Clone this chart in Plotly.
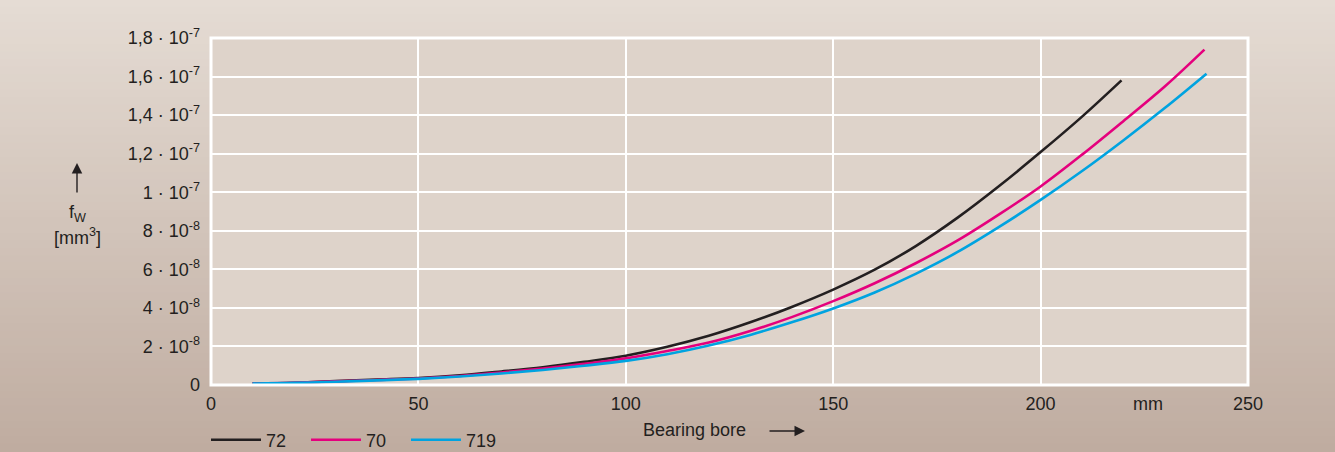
import plotly.graph_objects as go

# ---- data, values in units of 1e-8 mm^3 ----
bore_72 = [10, 20, 30, 40, 50, 60, 70, 80, 90, 100, 110, 120, 130, 140, 150,
           160, 170, 180, 190, 200, 210, 219.5]
fw_72 = [0.08, 0.12, 0.20, 0.28, 0.36, 0.50, 0.70, 0.92, 1.20, 1.52, 1.98, 2.55,
         3.25, 4.05, 4.95, 5.98, 7.22, 8.68, 10.32, 12.08, 13.92, 15.80]

bore_70 = [10, 20, 30, 40, 50, 60, 70, 80, 90, 100, 110, 120, 130, 140, 150,
           160, 170, 180, 190, 200, 210, 220, 230, 239.5]
fw_70 = [0.08, 0.12, 0.19, 0.26, 0.34, 0.47, 0.65, 0.86, 1.10, 1.38, 1.76, 2.20,
         2.80, 3.52, 4.35, 5.28, 6.33, 7.50, 8.85, 10.30, 11.95, 13.70, 15.50, 17.40]

bore_719 = [10, 20, 30, 40, 50, 60, 70, 80, 90, 100, 110, 120, 130, 140, 150,
            160, 170, 180, 190, 200, 210, 220, 230, 240]
fw_719 = [0.08, 0.11, 0.17, 0.24, 0.32, 0.44, 0.60, 0.78, 1.00, 1.25, 1.60, 2.05,
          2.60, 3.25, 3.97, 4.80, 5.78, 6.90, 8.20, 9.60, 11.10, 12.70, 14.38, 16.15]

series_names = ["72", "70", "719"]
series_colors = ["#231f20", "#e5007d", "#00a3e0"]

x_ticks = [0, 50, 100, 150, 200, 250]
y_tickvals = [0, 2e-8, 4e-8, 6e-8, 8e-8, 1e-7, 1.2e-7, 1.4e-7, 1.6e-7, 1.8e-7]
y_ticktext = ["0", "2 · 10<sup>-8</sup>", "4 · 10<sup>-8</sup>", "6 · 10<sup>-8</sup>",
              "8 · 10<sup>-8</sup>", "1 · 10<sup>-7</sup>", "1,2 · 10<sup>-7</sup>",
              "1,4 · 10<sup>-7</sup>", "1,6 · 10<sup>-7</sup>", "1,8 · 10<sup>-7</sup>"]

W, H = 1335, 452
ML, MR, MT, MB = 211, 87, 38, 67
PW, PH = W - ML - MR, H - MT - MB

FONT = "Liberation Sans, Arial, Helvetica, sans-serif"
FS = 18
TXT = "#231f20"

fig = go.Figure()
for xs, ys, name, col in [(bore_72, fw_72, series_names[0], series_colors[0]),
                          (bore_70, fw_70, series_names[1], series_colors[1]),
                          (bore_719, fw_719, series_names[2], series_colors[2])]:
    fig.add_trace(go.Scatter(x=xs, y=[v * 1e-8 for v in ys], mode="lines", name=name,
                             line=dict(color=col, width=2.6, shape="spline", smoothing=1.0)))

# ---- vertical gradient background via stacked strips ----
def px_to_py(ypx):
    return (H - MB - ypx) / PH

def px_to_px(xpx):
    return (xpx - ML) / PW

top = (229, 220, 212)
bot = (191, 172, 160)
n = 60
shapes = []
for i in range(n):
    t = (i + 0.5) / n
    c = tuple(round(top[k] + (bot[k] - top[k]) * t) for k in range(3))
    y0 = H * i / n
    y1 = H * (i + 1) / n + 1
    shapes.append(dict(type="rect", xref="paper", yref="paper", layer="below",
                       x0=px_to_px(-2), x1=px_to_px(W + 2), y0=px_to_py(y1), y1=px_to_py(y0 - 1),
                       line=dict(width=0), fillcolor="rgb(%d,%d,%d)" % c))
# plot area with white frame
shapes.append(dict(type="rect", xref="paper", yref="paper", layer="below",
                   x0=0, x1=1, y0=0, y1=1, line=dict(width=0), fillcolor="#ded3ca"))
shapes.append(dict(type="rect", xref="paper", yref="paper", layer="above",
                   x0=0, x1=1, y0=0, y1=1, line=dict(width=3, color="white"),
                   fillcolor="rgba(0,0,0,0)"))

def txt(text, xpx, ypx):
    return dict(text=text, x=px_to_px(xpx), xref="paper", y=px_to_py(ypx), yref="paper",
                xanchor="center", yanchor="middle", showarrow=False,
                font=dict(family=FONT, size=FS, color=TXT))

annotations = [
    txt("mm", 1148, 404),
    txt("Bearing bore", 694, 430),
    dict(text="", x=px_to_px(805), xref="paper", y=px_to_py(431), yref="paper",
         showarrow=True, ax=-37, ay=0, arrowhead=2, arrowsize=1.5, arrowwidth=1.4,
         arrowcolor=TXT),
    dict(text="", x=px_to_px(77), xref="paper", y=px_to_py(163), yref="paper",
         showarrow=True, ax=0, ay=31, arrowhead=2, arrowsize=1.5, arrowwidth=1.4,
         arrowcolor=TXT),
    txt("f<sub>W</sub>", 77, 213),
    txt("[mm<sup>3</sup>]", 77, 236),
]

fig.update_layout(
    width=W, height=H, autosize=False,
    margin=dict(l=ML, r=MR, t=MT, b=MB, pad=0, autoexpand=False),
    paper_bgcolor="#d0c0b4", plot_bgcolor="rgba(0,0,0,0)",
    font=dict(family=FONT, size=FS, color=TXT),
    shapes=shapes, annotations=annotations,
    showlegend=True,
    legend=dict(orientation="h", x=px_to_px(206), xanchor="left", y=px_to_py(440),
                yanchor="middle", bgcolor="rgba(0,0,0,0)", font=dict(size=FS, color=TXT),
                itemwidth=50, entrywidth=35, entrywidthmode="pixels",
                tracegroupgap=0, traceorder="normal"),
    xaxis=dict(range=[0, 250], tickvals=x_ticks, showgrid=True, gridcolor="white",
               gridwidth=2, zeroline=False, showline=False, ticks="",
               ticklabelstandoff=6,
               tickfont=dict(family=FONT, size=FS, color=TXT), fixedrange=True),
    yaxis=dict(range=[0, 1.8e-7], tickvals=y_tickvals, ticktext=y_ticktext, showgrid=True,
               gridcolor="white", gridwidth=2, zeroline=False, showline=False, ticks="",
               ticklabelstandoff=10,
               tickfont=dict(family=FONT, size=FS, color=TXT), fixedrange=True),
)

fig.write_html("out.html", config={"displayModeBar": False},
               post_script="document.body.style.margin='0';document.body.style.overflow='hidden';")
